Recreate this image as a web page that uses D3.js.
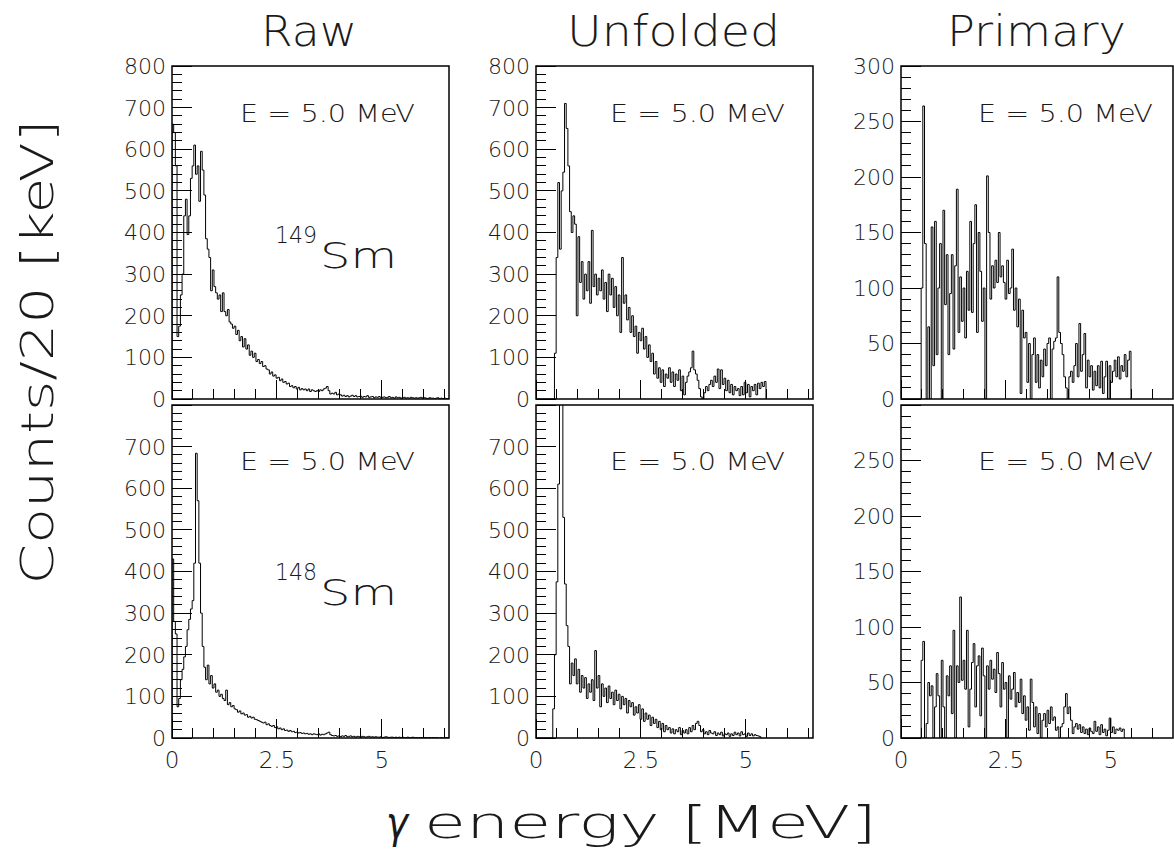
<!DOCTYPE html>
<html><head><meta charset="utf-8">
<script src="https://cdn.jsdelivr.net/npm/d3@7"></script>
<style>
html,body{margin:0;padding:0;background:#fff;}
svg{display:block;}
text{font-family:"DejaVu Sans",sans-serif;font-weight:200;fill:#1a1a1a;}
</style></head><body>
<svg id="chart" width="1174" height="857"></svg>
<script>
// ---------------- data (counts per bin, bins of 40 keV starting at 0 MeV) ----------------
const binWidthMeV = 0.04;
const energyMax = 6.6;
const columnTitles = ["Raw", "Unfolded", "Primary"];
const nucleusMass = ["149", "148"];
const excitationLabel = "E = 5.0 MeV";
const xTitleSymbol = "γ";
const xTitleRest = "energy [MeV]";
const yTitle = "Counts/20 [keV]";
const energyTicks = [0, 2.5, 5];
const energyTickLabels = ["0", "2.5", "5"];
const energyMinorStep = 0.5;
const countTicks800 = [0, 100, 200, 300, 400, 500, 600, 700, 800];
const countTicks300 = [0, 50, 100, 150, 200, 250, 300];

const rawSm149 = [660,640,560,150,175,250,300,440,480,395,
 440,530,560,610,540,560,475,595,550,490,
 385,360,340,260,310,270,255,240,250,210,
 255,210,200,215,185,180,170,175,155,165,
 140,150,125,145,120,130,105,115,100,110,
 90,95,85,90,78,80,72,70,60,65,
 55,58,50,52,44,48,40,42,36,38,
 30,32,27,30,24,28,22,25,22,24,
 20,24,18,22,20,18,20,18,22,20,
 24,26,30,20,12,14,12,16,10,12,
 10,7,9,6,8,5,7,9,6,8, 5,6,7,4,6,5,8,4,5,6,
 3,5,4,6,3,4,5,3,4,6, 3,4,2,5,3,4,2,3,4,2,
 3,2,4,3,2,3,2,3,4,2, 3,2,1,3,2,2,1,2,3,1,
 2,1,2,1,1];

const rawSm148 = [430,280,250,75,95,140,165,195,220,260,
 285,310,330,420,684,570,420,300,220,170,
 140,175,130,150,120,130,110,115,100,105,
 95,90,115,80,85,75,78,70,68,62,
 65,58,60,55,56,50,52,48,50,45,
 44,42,40,38,36,38,32,34,30,28,
 30,25,27,22,24,20,22,18,19,16,
 18,15,16,13,14,12,13,11,12,10,
 11,9,10,8,10,9,8,10,7,9,
 8,10,12,14,8,6,
 5,6,4,5,3, 5,4,6,3,4, 5,3,4,2,4, 3,2,4,3,2, 3,4,2,3,2,
 3,2,2,3,1, 2,3,2,1,2, 2,1,2,1,2, 1,2,1,1,2, 1,1,2,1,1,
 0,1,1,0,1, 1,0,1,0,1, 0,1,0,0,1, 0,0,1,0];

const unfoldedSm149 = [0,0,0,0,0,0,0,0,0,0,0,
 110,340,520,360,500,545,710,650,560,450,
 400,440,420,200,390,280,330,240,300,260,
 330,230,405,270,300,250,290,260,310,240,
 280,210,300,250,290,220,270,200,250,160,
 340,230,250,190,220,160,200,150,175,110,
 160,140,170,120,150,100,130,90,110,60,
 90,50,75,40,70,30,60,50,75,40,
 65,30,60,45,70,20,55,10,40,55,
 65,75,115,70,60,45,25,5,0,15,
 30,20,35,45,30,55,40,72,25,70,
 35,50,20,45,15,35,10,30,20,25,
 8,30,10,40,15,35,5,30,20,35,
 10,38,25,40,30,42];

const unfoldedSm148 = [0,0,0,0,0,0,0,0,0,0,
 70,200,375,610,1200,1100,530,370,270,220,
 130,180,150,190,130,165,110,150,120,145,
 95,130,110,140,90,210,120,150,75,130,
 100,120,85,125,95,110,80,115,90,105,
 70,100,80,95,60,90,75,85,55,75,
 60,80,45,70,40,60,45,55,30,50,
 35,45,25,40,20,35,15,30,20,25,
 12,22,10,20,15,25,8,18,12,20,
 10,25,15,30,20,35,40,30,15,20,
 10,15,8,18,12,10,15,6,12,8,
 14,5,10,8,12,4,10,6,14,8,
 12,5,15,8,10,4,12,6,10,5,
 8,6,5,3];

const primarySm149 = [0,0,0,0,0,0,0,0,0,0,0,0,
 100,264,140,0,65,0,155,30,160,
 40,100,140,0,170,85,130,40,95,130,
 45,120,189,60,110,70,100,55,115,80,
 160,78,140,175,60,150,115,70,100,0,
 201,150,90,120,100,125,105,150,110,120,
 105,90,125,95,100,135,80,100,65,90,
 5,80,55,60,15,50,0,40,55,15,
 40,10,35,20,45,30,50,55,0,45,
 52,55,110,60,50,40,20,10,0,20,
 25,15,30,50,20,68,25,40,59,10,
 35,20,30,8,25,12,30,10,34,5,
 20,34,0,30,15,25,35,20,38,18,
 30,25,40,20,35,43];

const primarySm148 = [0,0,0,0,0,0,0,0,0,0,0,0,
 70,87,0,13,50,38,47,0,28,
 58,38,0,70,28,0,56,38,65,22,
 97,0,65,50,127,52,70,44,97,10,
 44,68,85,28,65,74,20,81,56,0,
 65,44,70,53,62,41,77,58,28,68,
 44,50,0,56,35,44,59,28,41,32,
 53,22,38,16,28,7,53,32,10,28,
 4,22,0,16,22,10,25,13,28,16,
 19,7,10,0,10,13,28,40,22,28,
 16,4,10,13,8,12,5,10,4,8,
 3,9,6,4,15,6,10,3,12,5,
 8,2,7,18,5,10,4,8,7,9,
 6,8];

// ---------------- layout ----------------
const W = 1174, H = 857;
const colLeft = [172, 536, 901];
const rowTop = [66, 405];
const PW = 277, PH = 333;
const labelOffset = [68, 74, 77];

const panels = [
  {col:0,row:0,data:rawSm149,ticks:countTicks800,minor:20},
  {col:1,row:0,data:unfoldedSm149,ticks:countTicks800,minor:20},
  {col:2,row:0,data:primarySm149,ticks:countTicks300,minor:10},
  {col:0,row:1,data:rawSm148,ticks:countTicks800,minor:20},
  {col:1,row:1,data:unfoldedSm148,ticks:countTicks800,minor:20},
  {col:2,row:1,data:primarySm148,ticks:countTicks300,minor:10}
];

const svg = d3.select("#chart");
svg.append("rect").attr("width", W).attr("height", H).attr("fill", "#fff");
const defs = svg.append("defs");

panels.forEach((p, k) => {
  const x0 = colLeft[p.col], y0 = rowTop[p.row];
  const fw = Math.min(PW, 1173 - x0);
  const ymax = p.ticks[p.ticks.length - 1];
  const x = d3.scaleLinear().domain([0, energyMax]).range([x0, x0 + PW]);
  const y = d3.scaleLinear().domain([0, ymax]).range([y0 + PH, y0]);
  const g = svg.append("g");

  defs.append("clipPath").attr("id", "clip" + k)
    .append("rect").attr("x", x0).attr("y", y0).attr("width", fw).attr("height", PH);

  const pts = [[0, 0]];
  p.data.forEach((v, i) => { pts.push([i * binWidthMeV, v], [(i + 1) * binWidthMeV, v]); });
  pts.push([p.data.length * binWidthMeV, 0]);
  g.append("path")
    .attr("d", d3.line().x(d => x(d[0])).y(d => y(d[1]))(pts))
    .attr("clip-path", `url(#clip${k})`)
    .attr("fill", "none").attr("stroke", "#000").attr("stroke-width", 1);

  const tg = g.append("g").attr("stroke", "#000").attr("stroke-width", 1).attr("shape-rendering", "crispEdges");
  tg.selectAll(".ym").data(d3.range(0, ymax + 0.001, p.minor)).join("line")
    .attr("x1", x0).attr("x2", x0 + 10).attr("y1", d => y(d)).attr("y2", d => y(d));
  tg.selectAll(".yM").data(p.ticks).join("line")
    .attr("x1", x0).attr("x2", x0 + 20).attr("y1", d => y(d)).attr("y2", d => y(d));
  tg.selectAll(".xm").data(d3.range(0, energyMax, energyMinorStep).filter(e => x(e) <= x0 + fw)).join("line")
    .attr("x1", d => x(d)).attr("x2", d => x(d)).attr("y1", y0 + PH).attr("y2", y0 + PH - 10);
  tg.selectAll(".xM").data(energyTicks).join("line")
    .attr("x1", d => x(d)).attr("x2", d => x(d)).attr("y1", y0 + PH).attr("y2", y0 + PH - 19);

  g.append("rect").attr("x", x0).attr("y", y0).attr("width", fw).attr("height", PH)
    .attr("fill", "none").attr("stroke", "#000").attr("stroke-width", 1.5);

  const ylabels = p.row === 0 ? p.ticks : p.ticks.slice(0, -1);
  g.selectAll(".yl").data(ylabels).join("text")
    .attr("x", x0 - 6).attr("y", d => y(d)).attr("dy", "0.36em")
    .attr("text-anchor", "end").attr("font-size", 22).text(d => d);

  if (p.row === 1) {
    g.selectAll(".xl").data(energyTicks).join("text")
      .attr("x", d => x(d)).attr("y", 768)
      .attr("text-anchor", "middle").attr("font-size", 23)
      .text((d, i) => energyTickLabels[i]);
  }

  g.append("text").attr("x", x0 + labelOffset[p.col]).attr("y", p.row === 0 ? 122 : 470)
    .attr("font-size", 25).attr("textLength", 175).attr("lengthAdjust", "spacingAndGlyphs")
    .text(excitationLabel);

  if (p.col === 0) {
    const base = p.row === 0 ? 268 : 605;
    g.append("text").attr("x", 275).attr("y", base - 25).attr("font-size", 23)
      .attr("textLength", 42).attr("lengthAdjust", "spacingAndGlyphs").text(nucleusMass[p.row]);
    g.append("text").attr("x", 320).attr("y", base).attr("font-size", 36)
      .attr("textLength", 77).attr("lengthAdjust", "spacingAndGlyphs").text("Sm");
  }
});

const titleSpan = [[261, 96], [567, 213], [947, 179]];
svg.selectAll(".ct").data(columnTitles).join("text")
  .attr("x", (d, i) => titleSpan[i][0]).attr("y", 46)
  .attr("font-size", 43).attr("textLength", (d, i) => titleSpan[i][1])
  .attr("lengthAdjust", "spacingAndGlyphs").text(d => d);

svg.append("text").attr("transform", "translate(53,352) rotate(-90)")
  .attr("text-anchor", "middle").attr("font-size", 44)
  .attr("textLength", 465).attr("lengthAdjust", "spacingAndGlyphs").text(yTitle);

svg.append("text").attr("x", 386).attr("y", 838).attr("font-size", 44)
  .attr("font-style", "italic").attr("textLength", 22).attr("lengthAdjust", "spacingAndGlyphs")
  .text(xTitleSymbol);
svg.append("text").attr("x", 424).attr("y", 838).attr("font-size", 44)
  .attr("textLength", 453).attr("lengthAdjust", "spacingAndGlyphs").text(xTitleRest);
</script>
</body></html>
